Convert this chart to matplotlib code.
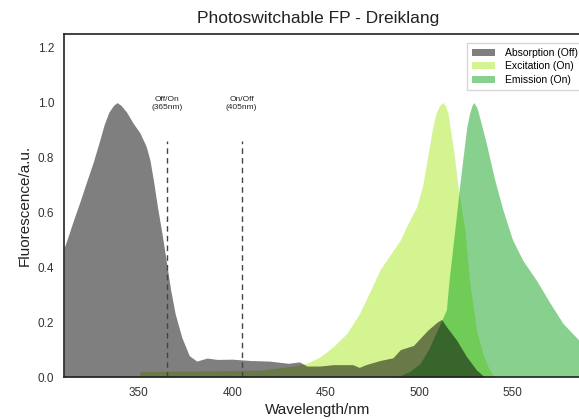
import matplotlib
matplotlib.use("Agg")
import matplotlib.pyplot as plt

# absorption (off state)
abs_nm = [310, 311.6, 315, 318.6, 322, 325.5, 329, 331.5, 334, 336.5, 338.4, 340.5, 343.5,
          347, 350.6, 354, 356, 358, 360, 362.5, 365, 367, 369.5, 373, 377, 381, 386.5,
          392, 400, 410, 420, 430, 436, 440, 447, 454, 464.5, 468, 471.5, 479, 486, 490,
          497, 504.5, 509.6, 512, 515, 520, 525.5, 530.8, 535]
abs_val = [0.47, 0.50, 0.57, 0.64, 0.71, 0.78, 0.86, 0.92, 0.965, 0.99, 1.0, 0.99, 0.965,
           0.925, 0.89, 0.84, 0.79, 0.71, 0.62, 0.52, 0.41, 0.32, 0.23, 0.145, 0.078, 0.058,
           0.069, 0.064, 0.065, 0.06, 0.058, 0.05, 0.055, 0.04, 0.04, 0.045, 0.045, 0.035,
           0.045, 0.06, 0.07, 0.10, 0.115, 0.17, 0.20, 0.21, 0.18, 0.135, 0.073, 0.025, 0.0]

# excitation (on state)
exc_nm = [350, 351, 380, 415, 433, 440, 447, 454, 461.5, 468, 475, 479, 484, 490, 493,
          498.7, 502, 504.5, 507, 509, 511, 512.6, 514, 515.5, 517, 519, 520.7, 524.6, 527,
          530.7, 534, 537, 540]
exc_val = [0.0, 0.02, 0.022, 0.025, 0.04, 0.05, 0.073, 0.11, 0.16, 0.23, 0.33, 0.39, 0.44,
           0.50, 0.545, 0.62, 0.70, 0.80, 0.90, 0.96, 0.99, 1.0, 0.99, 0.96, 0.89, 0.80, 0.70,
           0.53, 0.35, 0.17, 0.087, 0.036, 0.0]

# emission (on state)
emi_nm = [488, 495, 500.6, 505, 507, 511, 514.6, 516, 519, 521.6, 523.5, 525.5, 527,
          528.3, 529.4, 531, 533, 536, 540.4, 544.8, 550, 555.5, 563, 570, 577, 585.4, 590]
emi_val = [0.0, 0.02, 0.05, 0.10, 0.13, 0.19, 0.245, 0.35, 0.53, 0.69, 0.80, 0.91, 0.96,
           0.99, 1.0, 0.98, 0.93, 0.85, 0.72, 0.61, 0.50, 0.425, 0.35, 0.27, 0.195, 0.135, 0.10]

switch_nm = [365, 405]
switch_txt = ["Off/On\n(365nm)", "On/Off\n(405nm)"]

plt.rcParams['font.family'] = ['Liberation Sans', 'DejaVu Sans']

fig = plt.figure(figsize=(5.79, 4.2), dpi=100)
ax = fig.add_axes([64 / 579, 43 / 420, 542 / 579, 343 / 420])

ax.fill_between(exc_nm, exc_val, color="#a9eb23", alpha=0.5, lw=0, label="Excitation (On)")
ax.fill_between(emi_nm, emi_val, color="#11a31f", alpha=0.5, lw=0, label="Emission (On)")
ax.fill_between(abs_nm, abs_val, color="black", alpha=0.5, lw=0, label="Absorption (Off)")

for nm, txt in zip(switch_nm, switch_txt):
    ax.vlines(nm, 0, 0.86, colors="#444444", linestyles=(0, (4, 3)), lw=1)
    ax.text(nm, 1.025, txt, ha="center", va="top", fontsize=6, color="#222222")

ax.set_xlim(310, 600)
ax.set_ylim(0, 1.25)
ax.set_xticks([350, 400, 450, 500, 550])
ax.set_yticks([0.0, 0.2, 0.4, 0.6, 0.8, 1.0, 1.2])
ax.tick_params(length=0, labelsize=8.5, labelcolor="#333333", pad=7)
for s in ax.spines.values():
    s.set_color("#222222")
    s.set_linewidth(1.2)

ax.set_xlabel("Wavelength/nm", fontsize=11, color="#222222", labelpad=2)
ax.xaxis.set_label_coords((318 - 64) / 542, -0.075)
ax.set_ylabel("Fluorescence/a.u.", fontsize=11, color="#222222")
ax.set_title("Photoswitchable FP - Dreiklang", fontsize=12.5, color="#222222",
             x=(318 - 64) / 542, pad=8)

h, l = ax.get_legend_handles_labels()
order = [2, 0, 1]
ax.legend([h[i] for i in order], [l[i] for i in order], loc="upper left",
          bbox_to_anchor=((462 - 64) / 542, 0.99), fontsize=7.5, frameon=True,
          fancybox=False, edgecolor="#cccccc", handlelength=2.2, handletextpad=0.9,
          borderpad=0.5, labelspacing=0.35)

fig.savefig("out.png", dpi=100)
